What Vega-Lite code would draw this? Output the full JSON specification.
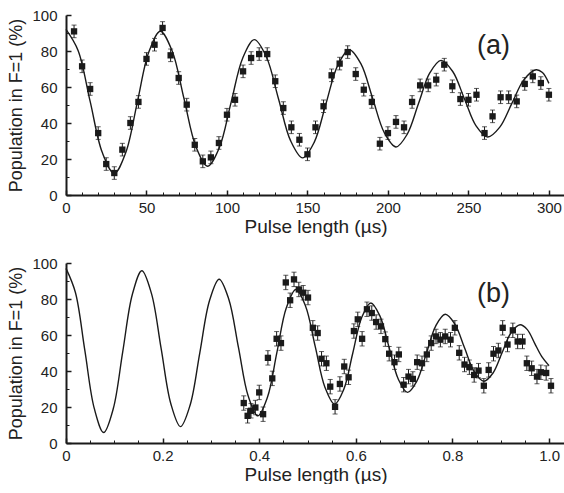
{
  "$schema": "https://vega.github.io/schema/vega-lite/v6.json",
  "padding": {"left": 7, "top": 8, "right": 0, "bottom": 0},
  "spacing": 20,
  "config": {
    "view": {"stroke": null},
    "axis": {
      "grid": false,
      "domainColor": "#1a1a1a",
      "domainWidth": 2,
      "tickColor": "#1a1a1a",
      "labelColor": "#222222",
      "titleColor": "#222222",
      "labelFont": "Liberation Sans",
      "titleFont": "Liberation Sans",
      "labelFontSize": 15,
      "titleFontSize": 19,
      "titleFontWeight": "normal",
      "labelFlush": false,
      "labelOverlap": false
    }
  },
  "datasets": {
    "fitA": [
      {"t":0,"p":92},{"t":7.5,"p":80.3},{"t":15,"p":52},{"t":22.5,"p":23.7},{"t":30,"p":12},
      {"t":37.15,"p":23.6},{"t":44.3,"p":51.5},{"t":51.45,"p":79.4},{"t":58.6,"p":91},
      {"t":65.95,"p":80},{"t":73.3,"p":53.5},{"t":80.65,"p":27},{"t":88,"p":16},
      {"t":95.25,"p":26.3},{"t":102.5,"p":51.2},{"t":109.75,"p":76},{"t":117,"p":86.3},
      {"t":124.5,"p":76.7},{"t":132,"p":53.5},{"t":139.5,"p":30.2},{"t":147,"p":20.6},
      {"t":154.25,"p":29.4},{"t":161.5,"p":50.7},{"t":168.75,"p":71.9},{"t":176,"p":80.7},
      {"t":183.25,"p":72.8},{"t":190.5,"p":53.7},{"t":197.75,"p":34.6},{"t":205,"p":26.7},
      {"t":212,"p":33.8},{"t":219,"p":50.8},{"t":226,"p":67.8},{"t":233,"p":74.8},
      {"t":240.25,"p":68.6},{"t":247.5,"p":53.5},{"t":254.75,"p":38.4},{"t":262,"p":32.2},
      {"t":269.5,"p":37.7},{"t":277,"p":50.9},{"t":284.5,"p":64.1},{"t":292,"p":69.6},
      {"t":296,"p":68},{"t":300,"p":62}
    ],
    "dataA": [
      {"t":5,"p":90.9,"e":3.5},{"t":10,"p":71.5,"e":3.5},{"t":15,"p":58.9,"e":3.5},{"t":20,"p":34.4,"e":3.5},
      {"t":25,"p":17.2,"e":3.5},{"t":30,"p":12.2,"e":3.5},{"t":35,"p":25.2,"e":3.5},{"t":40,"p":40,"e":3.5},
      {"t":45,"p":51.7,"e":3.5},{"t":50,"p":75.6,"e":3.5},{"t":55,"p":83.5,"e":3.5},{"t":60,"p":92.8,"e":3.5},
      {"t":65,"p":77.6,"e":3.5},{"t":70,"p":65,"e":3.5},{"t":75,"p":50.2,"e":3.5},{"t":80,"p":27.9,"e":3.5},
      {"t":85,"p":18.7,"e":3.5},{"t":90,"p":20.9,"e":3.5},{"t":95,"p":28.9,"e":3.5},{"t":100,"p":44.6,"e":3.5},
      {"t":105,"p":52.9,"e":3.5},{"t":110,"p":68.7,"e":3.5},{"t":115,"p":76.1,"e":3.5},{"t":120,"p":78.3,"e":3.5},
      {"t":125,"p":78.3,"e":3.5},{"t":130,"p":63.2,"e":3.5},{"t":135,"p":48.3,"e":3.5},{"t":140,"p":37.6,"e":3.5},
      {"t":145,"p":30.7,"e":3.5},{"t":150,"p":22.6,"e":3.5},{"t":155,"p":37.6,"e":3.5},{"t":160,"p":49.3,"e":3.5},
      {"t":165,"p":66.5,"e":3.5},{"t":170,"p":73,"e":3.5},{"t":175,"p":79.4,"e":3.5},{"t":180,"p":67.2,"e":3.5},
      {"t":185,"p":58.5,"e":3.5},{"t":190,"p":51.7,"e":3.5},{"t":195,"p":28.5,"e":3.5},{"t":200,"p":34.4,"e":3.5},
      {"t":205,"p":40.6,"e":3.5},{"t":210,"p":37.6,"e":3.5},{"t":215,"p":51.7,"e":3.5},{"t":220,"p":60.9,"e":3.5},
      {"t":225,"p":60.9,"e":3.5},{"t":230,"p":64.1,"e":3.5},{"t":235,"p":72.4,"e":3.5},{"t":240,"p":60.4,"e":3.5},
      {"t":245,"p":53.3,"e":3.5},{"t":250,"p":52.9,"e":3.5},{"t":255,"p":55.7,"e":3.5},{"t":260,"p":34.4,"e":3.5},
      {"t":265,"p":43.7,"e":3.5},{"t":270,"p":54.3,"e":3.5},{"t":275,"p":54.3,"e":3.5},{"t":280,"p":52,"e":3.5},
      {"t":285,"p":61.7,"e":3.5},{"t":290,"p":65.9,"e":3.5},{"t":295,"p":62.2,"e":3.5},{"t":300,"p":55.7,"e":3.5}
    ],
    "fitB": [
      {"t":0,"p":97},{"t":0.0195,"p":83.6},{"t":0.039,"p":51.4},{"t":0.0585,"p":19.2},{"t":0.078,"p":5.8},
      {"t":0.0978,"p":19},{"t":0.1175,"p":50.8},{"t":0.1373,"p":82.5},{"t":0.157,"p":95.7},
      {"t":0.177,"p":83},{"t":0.197,"p":52.4},{"t":0.217,"p":21.8},{"t":0.237,"p":9.1},
      {"t":0.257,"p":21.1},{"t":0.277,"p":50.1},{"t":0.297,"p":79},{"t":0.317,"p":91},
      {"t":0.337,"p":79.9},{"t":0.357,"p":53.1},{"t":0.377,"p":26.2},{"t":0.397,"p":15.1},
      {"t":0.417,"p":25.4},{"t":0.4365,"p":50.2},{"t":0.456,"p":75},{"t":0.476,"p":85.3},
      {"t":0.496,"p":76},{"t":0.516,"p":53.5},{"t":0.536,"p":31},{"t":0.556,"p":21.6},
      {"t":0.575,"p":29.8},{"t":0.5935,"p":49.7},{"t":0.612,"p":69.6},{"t":0.631,"p":77.8},
      {"t":0.65,"p":70.5},{"t":0.669,"p":53},{"t":0.688,"p":35.4},{"t":0.707,"p":28.1},
      {"t":0.7265,"p":34.5},{"t":0.746,"p":49.8},{"t":0.7655,"p":65.1},{"t":0.785,"p":71.5},
      {"t":0.805,"p":66.1},{"t":0.825,"p":52.9},{"t":0.845,"p":39.7},{"t":0.865,"p":34.3},
      {"t":0.884,"p":38.9},{"t":0.9025,"p":50},{"t":0.921,"p":61.1},{"t":0.94,"p":65.7},
      {"t":0.955,"p":63},{"t":0.97,"p":55.5},{"t":0.985,"p":48},{"t":1.0,"p":43}
    ],
    "dataB": [
      {"t":0.368,"p":22.2,"e":4},{"t":0.376,"p":15.1,"e":4},{"t":0.383,"p":17.9,"e":4},{"t":0.392,"p":19.7,"e":4},
      {"t":0.4,"p":28.1,"e":4},{"t":0.408,"p":16,"e":4},{"t":0.418,"p":47.3,"e":4},{"t":0.427,"p":35.9,"e":4},
      {"t":0.436,"p":57.9,"e":4},{"t":0.445,"p":55.5,"e":4},{"t":0.455,"p":89.2,"e":4},{"t":0.464,"p":79.3,"e":4},
      {"t":0.472,"p":90.9,"e":4},{"t":0.482,"p":85.3,"e":4},{"t":0.491,"p":83.5,"e":4},{"t":0.501,"p":80.8,"e":4},
      {"t":0.511,"p":64,"e":4},{"t":0.521,"p":61.1,"e":4},{"t":0.529,"p":46.8,"e":4},{"t":0.539,"p":44.3,"e":4},
      {"t":0.547,"p":31.3,"e":4},{"t":0.557,"p":20.1,"e":4},{"t":0.567,"p":32.8,"e":4},{"t":0.576,"p":42.5,"e":4},
      {"t":0.585,"p":36.5,"e":4},{"t":0.596,"p":62.2,"e":4},{"t":0.604,"p":68.7,"e":4},{"t":0.613,"p":57.9,"e":4},
      {"t":0.623,"p":74.3,"e":4},{"t":0.633,"p":72.2,"e":4},{"t":0.642,"p":67.2,"e":4},{"t":0.652,"p":64.8,"e":4},
      {"t":0.661,"p":57.7,"e":4},{"t":0.669,"p":49.6,"e":4},{"t":0.68,"p":44.9,"e":4},{"t":0.689,"p":49.2,"e":4},
      {"t":0.699,"p":32.4,"e":4},{"t":0.709,"p":36.9,"e":4},{"t":0.718,"p":35.6,"e":4},{"t":0.727,"p":44.9,"e":4},
      {"t":0.737,"p":44.3,"e":4},{"t":0.747,"p":49.2,"e":4},{"t":0.756,"p":55.5,"e":4},{"t":0.766,"p":59.2,"e":4},
      {"t":0.775,"p":57.4,"e":4},{"t":0.785,"p":59.2,"e":4},{"t":0.796,"p":57.4,"e":4},{"t":0.805,"p":64,"e":4},
      {"t":0.814,"p":50.1,"e":4},{"t":0.825,"p":43.6,"e":4},{"t":0.835,"p":42.1,"e":4},{"t":0.845,"p":37.8,"e":4},
      {"t":0.854,"p":40.2,"e":4},{"t":0.865,"p":31.8,"e":4},{"t":0.875,"p":40.6,"e":4},{"t":0.885,"p":49.6,"e":4},
      {"t":0.895,"p":51.4,"e":4},{"t":0.904,"p":64,"e":4},{"t":0.914,"p":54.7,"e":4},{"t":0.925,"p":62.6,"e":4},
      {"t":0.935,"p":56.4,"e":4},{"t":0.945,"p":56.4,"e":4},{"t":0.954,"p":44.3,"e":4},{"t":0.964,"p":41.5,"e":4},
      {"t":0.975,"p":36.9,"e":4},{"t":0.983,"p":39.3,"e":4},{"t":0.994,"p":38.9,"e":4},{"t":1.004,"p":31.8,"e":4}
    ]
  },
  "vconcat": [
    {
      "width": 499,
      "height": 180,
      "title": {"text": "(a)", "orient": "top", "anchor": "end", "frame": "group", "offset": 0, "dx": -55, "dy": 73, "baseline": "alphabetic", "fontSize": 27, "fontWeight": "normal", "font": "Liberation Sans", "color": "#222222"},
      "resolve": {"axis": {"x": "independent", "y": "independent"}},
      "layer": [
        {
          "data": {"name": "fitA"},
          "mark": {"type": "line", "interpolate": "catmull-rom", "color": "#1a1a1a", "strokeWidth": 1.4},
          "encoding": {
            "x": {"field": "t", "type": "quantitative", "scale": {"domain": [0, 310], "nice": false, "zero": false},
                  "axis": {"orient": "bottom", "values": [0, 50, 100, 150, 200, 250, 300], "title": "Pulse length (µs)", "tickSize": -5, "tickWidth": 1.5, "labelPadding": 10, "titlePadding": 2}},
            "y": {"field": "p", "type": "quantitative", "scale": {"domain": [0, 100], "nice": false},
                  "axis": {"orient": "left", "values": [0, 20, 40, 60, 80, 100], "title": "Population in F=1 (%)", "tickSize": -5, "tickWidth": 1.5, "labelPadding": 14, "titlePadding": 6, "titleFontSize": 18}}
          }
        },
        {
          "data": {"name": "dataA"},
          "mark": {"type": "errorbar", "ticks": true, "size": 5, "thickness": 1, "color": "#1a1a1a"},
          "encoding": {
            "x": {"field": "t", "type": "quantitative", "scale": {"domain": [0, 310], "nice": false, "zero": false},
                  "axis": {"orient": "bottom", "values": [10, 20, 30, 40, 60, 70, 80, 90, 110, 120, 130, 140, 160, 170, 180, 190, 210, 220, 230, 240, 260, 270, 280, 290], "labels": false, "title": null, "domain": false, "tickSize": -3, "tickWidth": 1}},
            "y": {"field": "p", "type": "quantitative", "scale": {"domain": [0, 100], "nice": false},
                  "axis": {"orient": "left", "values": [10, 30, 50, 70, 90], "labels": false, "title": null, "domain": false, "tickSize": -3, "tickWidth": 1}},
            "yError": {"field": "e"}
          }
        },
        {
          "data": {"name": "dataA"},
          "mark": {"type": "square", "size": 40, "color": "#1a1a1a", "opacity": 1},
          "encoding": {
            "x": {"field": "t", "type": "quantitative", "axis": null},
            "y": {"field": "p", "type": "quantitative", "axis": null}
          }
        }
      ]
    },
    {
      "width": 499,
      "height": 180,
      "title": {"text": "(b)", "orient": "top", "anchor": "end", "frame": "group", "offset": 0, "dx": -55, "dy": 73, "baseline": "alphabetic", "fontSize": 27, "fontWeight": "normal", "font": "Liberation Sans", "color": "#222222"},
      "resolve": {"axis": {"x": "independent", "y": "independent"}},
      "layer": [
        {
          "data": {"name": "fitB"},
          "mark": {"type": "line", "interpolate": "catmull-rom", "color": "#1a1a1a", "strokeWidth": 1.4},
          "encoding": {
            "x": {"field": "t", "type": "quantitative", "scale": {"domain": [0, 1.033], "nice": false, "zero": false},
                  "axis": {"orient": "bottom", "values": [0, 0.2, 0.4, 0.6, 0.8, 1.0], "labelExpr": "datum.value == 0 ? '0' : format(datum.value, '.1f')", "title": "Pulse length (µs)", "tickSize": -5, "tickWidth": 1.5, "labelPadding": 10, "titlePadding": 2}},
            "y": {"field": "p", "type": "quantitative", "scale": {"domain": [0, 100], "nice": false},
                  "axis": {"orient": "left", "values": [0, 20, 40, 60, 80, 100], "title": "Population in F=1 (%)", "tickSize": -5, "tickWidth": 1.5, "labelPadding": 14, "titlePadding": 6, "titleFontSize": 18}}
          }
        },
        {
          "data": {"name": "dataB"},
          "mark": {"type": "errorbar", "ticks": true, "size": 5, "thickness": 1, "color": "#1a1a1a"},
          "encoding": {
            "x": {"field": "t", "type": "quantitative", "scale": {"domain": [0, 1.033], "nice": false, "zero": false},
                  "axis": {"orient": "bottom", "values": [0.05, 0.1, 0.15, 0.25, 0.3, 0.35, 0.45, 0.5, 0.55, 0.65, 0.7, 0.75, 0.85, 0.9, 0.95], "labels": false, "title": null, "domain": false, "tickSize": -3, "tickWidth": 1}},
            "y": {"field": "p", "type": "quantitative", "scale": {"domain": [0, 100], "nice": false},
                  "axis": {"orient": "left", "values": [10, 30, 50, 70, 90], "labels": false, "title": null, "domain": false, "tickSize": -3, "tickWidth": 1}},
            "yError": {"field": "e"}
          }
        },
        {
          "data": {"name": "dataB"},
          "mark": {"type": "square", "size": 40, "color": "#1a1a1a", "opacity": 1},
          "encoding": {
            "x": {"field": "t", "type": "quantitative", "axis": null},
            "y": {"field": "p", "type": "quantitative", "axis": null}
          }
        }
      ]
    }
  ]
}
